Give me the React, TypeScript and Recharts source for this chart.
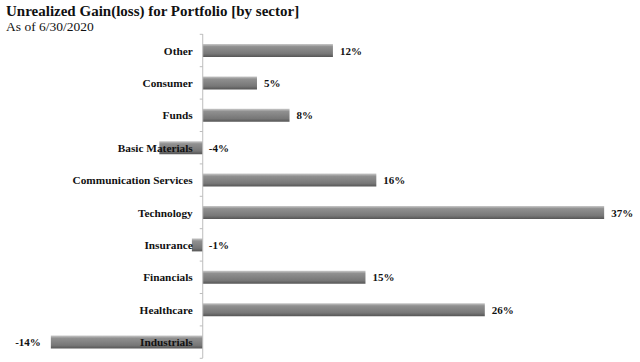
import { BarChart, Bar, XAxis, YAxis, ReferenceLine, LabelList } from "recharts"

const sectors = [
  "Other",
  "Consumer",
  "Funds",
  "Basic Materials",
  "Communication Services",
  "Technology",
  "Insurance",
  "Financials",
  "Healthcare",
  "Industrials",
]
const gains = [12, 5, 8, -4, 16, 37, -1, 15, 26, -14]

const data = sectors.map((sector, i) => ({ sector, gain: gains[i] }))

const FONT = '"Liberation Serif", "Times New Roman", serif'
const W = 640
const H = 362
const MARGIN = { top: 34, right: 25, left: 40, bottom: 4 }
const BAND = (H - MARGIN.top - MARGIN.bottom) / sectors.length

function zeroAndEnd(props: any) {
  const x = Number(props.x)
  const w = Number(props.width)
  const v = Number(props.value)
  if (v >= 0) return { zero: x, end: x + w }
  return { zero: Math.max(x, x + w), end: Math.min(x, x + w) }
}

// category name left of the zero line, plus the little axis ticks
function SectorLabel(props: any) {
  const { index } = props
  const y = Number(props.y) + Number(props.height) / 2
  const { zero } = zeroAndEnd({ ...props, value: gains[index] })
  const last = index === sectors.length - 1
  return (
    <g>
      <line x1={zero - 3} x2={zero} y1={y - BAND / 2} y2={y - BAND / 2} stroke="#bdbdbd" />
      {last && <line x1={zero - 3} x2={zero} y1={y + BAND / 2} y2={y + BAND / 2} stroke="#bdbdbd" />}
      <text x={zero - 10} y={y + 4} textAnchor="end" fontFamily={FONT} fontSize={11.3} fontWeight="bold" fill="#111">
        {sectors[index]}
      </text>
    </g>
  )
}

function ValueLabel(props: any) {
  const { index } = props
  const v = gains[index]
  const y = Number(props.y) + Number(props.height) / 2
  const { zero, end } = zeroAndEnd({ ...props, value: v })
  let x = v >= 0 ? end + 7 : zero + 6
  let anchor: "start" | "end" = "start"
  // bar runs past its own name, so the label sits at the outer end
  if (v <= -10) {
    x = end - 10
    anchor = "end"
  }
  return (
    <text x={x} y={y + 4} textAnchor={anchor} fontFamily={FONT} fontSize={11} fontWeight="bold" fill="#111">
      {`${v}%`}
    </text>
  )
}

export default function App() {
  return (
    <div style={{ position: "absolute", left: 0, top: 0, width: W, height: H, background: "#fff" }}>
      <div style={{ position: "absolute", left: 6, top: 3, fontFamily: FONT, color: "#111", lineHeight: "16px" }}>
        <div style={{ fontSize: 15, fontWeight: "bold" }}>Unrealized Gain(loss) for Portfolio [by sector]</div>
        <div style={{ fontSize: 13.5 }}>As of 6/30/2020</div>
      </div>
      <BarChart width={W} height={H} data={data} layout="vertical" margin={MARGIN} style={{ position: "absolute", left: 0, top: 0 }}>
        <defs>
          <linearGradient id="barGrad" x1="0" y1="0" x2="0" y2="1">
            <stop offset="0%" stopColor="#cacaca" />
            <stop offset="20%" stopColor="#909090" />
            <stop offset="75%" stopColor="#777" />
            <stop offset="100%" stopColor="#555" />
          </linearGradient>
        </defs>
        <XAxis type="number" domain={[-15, 38]} hide />
        <YAxis type="category" dataKey="sector" hide />
        <ReferenceLine x={0} stroke="#bdbdbd" strokeWidth={1} />
        <Bar dataKey="gain" fill="url(#barGrad)" barSize={13} isAnimationActive={false}>
          <LabelList dataKey="gain" content={<SectorLabel />} />
          <LabelList dataKey="gain" content={<ValueLabel />} />
        </Bar>
      </BarChart>
    </div>
  )
}
